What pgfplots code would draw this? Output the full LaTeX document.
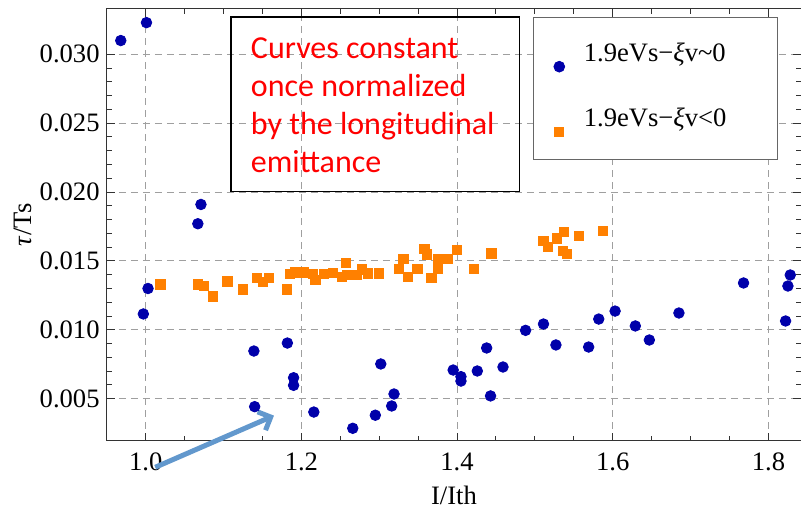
\documentclass[border=0pt]{standalone}
\usepackage{pgfplots}
\pgfplotsset{compat=1.18}
\usepackage{fontspec}
\setmainfont{Liberation Serif}
\newfontfamily\calibri{Carlito}
\usetikzlibrary{arrows.meta,calc}
\definecolor{mblue}{RGB}{0,0,170}
\definecolor{morange}{RGB}{255,128,0}
\definecolor{arrowblue}{RGB}{98,152,205}
\begin{document}
\fontsize{13.3}{16}\selectfont
\begin{tikzpicture}
\begin{axis}[name=ax, scale only axis, width=347pt, height=215.85pt,
  xmin=0.9503, xmax=1.8418, ymin=0.00195, ymax=0.03329,
  xtick={1.0,1.2,1.4,1.6,1.8}, xticklabels={1.0,1.2,1.4,1.6,1.8},
  ytick={0.005,0.010,0.015,0.020,0.025,0.030},
  yticklabels={0.005,0.010,0.015,0.020,0.025,0.030},
  scaled x ticks=false, scaled y ticks=false,
  minor x tick num=3, minor y tick num=4,
  tick align=inside, major tick length=4pt, minor tick length=2.5pt,
  grid=major, major grid style={gray!75, dash pattern=on 3.5pt off 2.5pt, line width=0.5pt},
  axis line style={black!80, line width=0.5pt},
  tick style={black!80, line width=0.5pt},
  /pgf/number format/assume math mode=true,
  xticklabel style={inner sep=0pt, yshift=-6pt},
  yticklabel style={inner sep=0pt, xshift=-3.5pt},
  xlabel={I/Ith}, ylabel={\textit{τ}/Ts},
  xlabel style={at={(axis description cs:0.5,0)}, anchor=base, yshift=-32pt, inner sep=0pt},
  ylabel style={at={(axis description cs:-0.121,0.5)}, anchor=center, inner sep=0pt},
  clip=false,
  legend cell align=left,
  legend image code/.code={\path (-4pt,0pt) (4pt,0pt); \draw[#1,overlay] plot coordinates {(0pt,-5.5pt)};},
  legend style={at={(rel axis cs:0.6134,0.9822)}, anchor=north west, draw=black!60, fill=white,
    line width=0.5pt, inner xsep=8.8pt, inner ysep=13pt, row sep=20pt, column sep=8pt,
    nodes={inner sep=0pt, text height=9pt, text depth=3.5pt, text width=88pt, align=left}},
]
\addplot[only marks, mark=*, mark size=2.65pt, mblue, mark options={draw=mblue, fill=mblue}] coordinates {
(0.968,0.0310) (1.001,0.0323) (1.071,0.0191) (1.067,0.0177) (0.997,0.01115) (1.003,0.0130)
(1.139,0.00846) (1.140,0.00442) (1.182,0.00904) (1.190,0.00652) (1.190,0.00597) (1.216,0.00403)
(1.266,0.00285) (1.302,0.00752) (1.295,0.00380) (1.316,0.00447) (1.319,0.00534) (1.395,0.00708)
(1.405,0.00660) (1.405,0.00628) (1.426,0.00701) (1.438,0.00868) (1.443,0.00520) (1.459,0.00730)
(1.488,0.00996) (1.511,0.01042) (1.527,0.00890) (1.569,0.00875) (1.582,0.01078) (1.603,0.01136)
(1.629,0.01028) (1.647,0.00926) (1.685,0.01122) (1.768,0.01340) (1.825,0.01318) (1.828,0.01398)
(1.822,0.01064)
};
\addlegendentry{1.9eVs−\textit{ξ}v\textasciitilde0}
\addplot[only marks, mark=square*, mark size=2.3pt, morange, mark options={draw=morange, fill=morange}] coordinates {
(1.019,0.01330) (1.067,0.01330) (1.075,0.01320) (1.086,0.01243) (1.105,0.01352) (1.125,0.01294)
(1.143,0.01376) (1.151,0.01349) (1.158,0.01374) (1.181,0.01294) (1.185,0.01403) (1.192,0.01417)
(1.203,0.01417) (1.215,0.01405) (1.218,0.01361) (1.229,0.01405) (1.240,0.01414) (1.252,0.01385)
(1.257,0.01483) (1.258,0.01398) (1.271,0.01398) (1.278,0.01439) (1.285,0.01410) (1.300,0.01410)
(1.325,0.01441) (1.331,0.01512) (1.337,0.01383) (1.349,0.01441) (1.358,0.01586) (1.361,0.01548)
(1.367,0.01378) (1.375,0.01512) (1.375,0.01441) (1.388,0.01512) (1.3995,0.01579) (1.422,0.01441)
(1.444,0.01555) (1.511,0.01644) (1.517,0.01599) (1.528,0.01664) (1.537,0.01708) (1.536,0.01572)
(1.541,0.01550) (1.556,0.01679) (1.587,0.01717)
};
\addlegendentry{1.9eVs−\textit{ξ}v<0}
\draw[black, line width=0.8pt] (rel axis cs:0.1787,0.5768) rectangle (rel axis cs:0.5941,0.9808);
\node[anchor=base west, align=left, text=red, font=\calibri\fontsize{16}{19}\selectfont, inner sep=0pt]
  at (rel axis cs:0.2069,0.6217) {Curves constant\\once normalized\\by the longitudinal\\emittance};
\draw[arrowblue, line width=2.5pt, -{Straight Barb[length=5pt,width=10pt]}]
  (axis cs:1.0123,0.00002) -- (axis cs:1.1648,0.00377);
\end{axis}
\pgfresetboundingbox
\path[use as bounding box] ($(ax.south west)+(-53.5pt,-34.15pt)$) rectangle ($(ax.north east)+(0pt,4.5pt)$);
\end{tikzpicture}
\end{document}
